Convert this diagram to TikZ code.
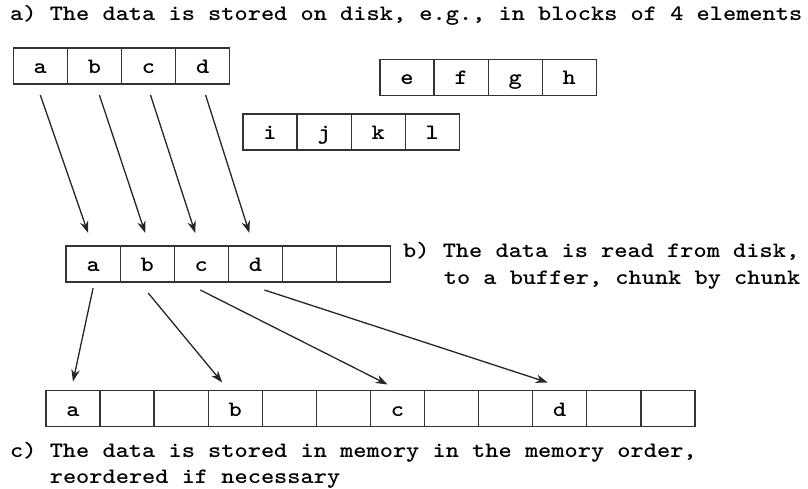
\documentclass[tikz,border=0pt]{standalone}
\usepackage{fontspec}
\newfontfamily\cour{lmmonolt10-bold.otf}[FakeStretch=1.143]
\usetikzlibrary{arrows.meta}
\begin{document}
\begin{tikzpicture}[x=1pt,y=-1pt,
 cell/.style={draw=black!80, line width=1.3pt, minimum width=54.1pt, minimum height=36pt, inner sep=0pt, outer sep=0pt, text height=19pt, text depth=4pt, font=\fontsize{22}{26}\cour},
 arr/.style={line width=1.3pt, draw=black!85, -{Stealth[length=12pt,width=8.5pt]}},
 lbl/.style={anchor=base west, inner sep=0pt, font=\fontsize{22}{26}\cour}]
\useasboundingbox (0,0) rectangle (808,489);
% disk block 1
\foreach \l [count=\i from 0] in {a,b,c,d}
  \node[cell] (d\i) at (40.3+54.1*\i,66) {\l};
% disk block 2
\foreach \l [count=\i from 0] in {e,f,g,h}
  \node[cell] (e\i) at (407+54.1*\i,77.5) {\l};
% disk block 3
\foreach \l [count=\i from 0] in {i,j,k,l}
  \node[cell] (f\i) at (270+54.1*\i,132) {\l};
% buffer
\foreach \l [count=\i from 0] in {a,b,c,d,{},{}}
  \node[cell] (b\i) at (93.1+54.1*\i,264) {\l};
% memory
\foreach \l [count=\i from 0] in {a,{},{},b,{},{},c,{},{},d,{},{}}
  \node[cell] (m\i) at (73+54.08*\i,408.5) {\l};
% disk -> buffer
\draw[arr] ([xshift=0pt,yshift=-11pt]d0.south) -- ([xshift=-5pt,yshift=13pt]b0.north);
\draw[arr] ([xshift=5pt,yshift=-11pt]d1.south) -- ([xshift=-2pt,yshift=13pt]b1.north);
\draw[arr] ([xshift=2pt,yshift=-11pt]d2.south) -- ([xshift=-6pt,yshift=13pt]b2.north);
\draw[arr] ([xshift=3pt,yshift=-11pt]d3.south) -- ([xshift=-6pt,yshift=13pt]b3.north);
% buffer -> memory
\draw[arr] ([xshift=0pt,yshift=-6pt]b0.south) -- ([xshift=0pt,yshift=9pt]m0.north);
\draw[arr] ([xshift=1pt,yshift=-11pt]b1.south) -- ([xshift=-13pt,yshift=8pt]m3.north);
\draw[arr] ([xshift=-1pt,yshift=-8pt]b2.south) -- ([xshift=-10pt,yshift=6pt]m6.north);
\draw[arr] ([xshift=9pt,yshift=-8pt]b3.south) -- ([xshift=-12pt,yshift=8pt]m9.north);
% labels
\node[lbl] (ta) at (10,21) {a) The data is stored on disk, e.g., in blocks of 4 elements};
\node[lbl] (tb1) at (403,257) {b) The data is read from disk,};
\node[lbl] (tb2) at (443.6,284) {to a buffer, chunk by chunk};
\node[lbl] (tc1) at (10,457) {c) The data is stored in memory in the memory order,};
\node[lbl] (tc2) at (49.6,483) {reordered if necessary};
\end{tikzpicture}
\end{document}
